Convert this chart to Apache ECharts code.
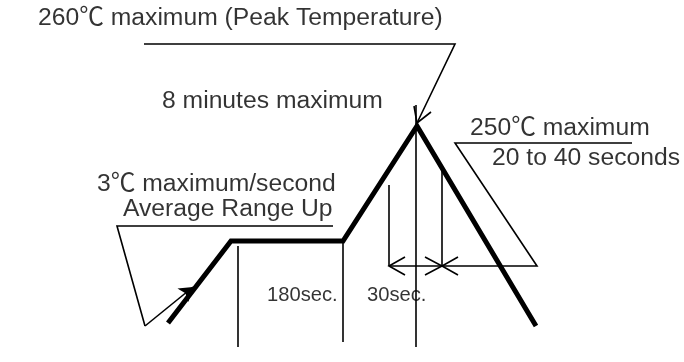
<!DOCTYPE html>
<html>
<head>
<meta charset="utf-8">
<script src="https://cdn.jsdelivr.net/npm/echarts@6/dist/echarts.min.js"></script>
<style>
html,body{margin:0;padding:0;background:#fff;}
#chart{width:684px;height:362px;}
</style>
</head>
<body>
<div id="chart"></div>
<script>
// Reflow profile (schematic units: horizontal = time position, vertical = drawing height from top)
const profileX = [168, 231, 343, 417, 536];
const profileY = [323, 241, 241, 126, 326];

// Thin guide / leader polylines
const topLeader = [[144, 44], [455, 44], [417, 123]];
const peakBarbs = [[431, 112], [417, 123], [414, 106]];
const rampLeader = [[333, 226], [117, 226], [145, 326]];
const rampArrow = [[145, 326], [193, 287]];
const dwellLeader = [[389, 266], [537, 266], [455, 143], [632, 143]];
const chevronLeft = [[405, 257], [389, 266], [405, 275]];
const chevronMidIn = [[425, 257], [442, 266], [425, 275]];
const chevronMidOut = [[458, 257], [442, 266], [458, 275]];
const verticals = [
  [[238, 246], [238, 347]],
  [[343, 241], [343, 342]],
  [[416, 105], [416, 347]],
  [[389, 185], [389, 266]],
  [[442, 171], [442, 266]]
];

// Text annotations
const bigLabels = ['260\u2103 maximum (Peak Temperature)', '8 minutes maximum', '3\u2103 maximum/second', 'Average Range Up', '250\u2103 maximum', '20 to 40 seconds'];
const bigLabelX = [38, 162, 97, 123, 470, 492];
const bigLabelY = [18, 101.5, 184.5, 209.5, 128.5, 158.5];
const smallLabels = ['180sec.', '30sec.'];
const smallLabelX = [267, 367];
const smallLabelY = [295, 295];

const FONT = "'Liberation Sans', Arial, 'Noto Sans CJK JP', sans-serif";

const thinPolys = [topLeader, peakBarbs, rampLeader, dwellLeader, chevronLeft, chevronMidIn, chevronMidOut].concat(verticals);

function labelData(texts, xs, ys) {
  return texts.map((t, i) => ({ value: [xs[i], ys[i]], name: t }));
}

const chart = echarts.init(document.getElementById('chart'), null, { renderer: 'canvas' });
chart.setOption({
  backgroundColor: '#ffffff',
  animation: false,
  grid: { left: 0, right: 0, top: 0, bottom: 0 },
  xAxis: { type: 'value', min: 0, max: 684, show: false },
  yAxis: { type: 'value', min: 0, max: 362, inverse: true, show: false },
  series: [
    {
      type: 'line',
      data: profileX.map((x, i) => [x, profileY[i]]),
      showSymbol: false,
      symbol: 'none',
      lineStyle: { color: '#000', width: 5, cap: 'butt', join: 'miter' },
      z: 5
    },
    {
      type: 'lines',
      coordinateSystem: 'cartesian2d',
      polyline: true,
      data: thinPolys.map(c => ({ coords: c })),
      lineStyle: { color: '#000', width: 1.6, opacity: 1, curveness: 0 },
      symbol: 'none',
      z: 3
    },
    {
      type: 'lines',
      coordinateSystem: 'cartesian2d',
      data: [{ coords: rampArrow }],
      lineStyle: { color: '#000', width: 1.6, opacity: 1 },
      symbol: ['none', 'arrow'],
      symbolSize: [10, 13],
      z: 3
    },
    {
      type: 'scatter',
      symbolSize: 0,
      data: labelData(bigLabels, bigLabelX, bigLabelY),
      label: {
        show: true, position: 'right', distance: 0,
        formatter: p => p.name,
        color: '#000', fontSize: 24.7, fontFamily: FONT
      },
      z: 10
    },
    {
      type: 'scatter',
      symbolSize: 0,
      data: labelData(smallLabels, smallLabelX, smallLabelY),
      label: {
        show: true, position: 'right', distance: 0,
        formatter: p => p.name,
        color: '#000', fontSize: 20.2, fontFamily: FONT
      },
      z: 10
    }
  ]
});
</script>
</body>
</html>
